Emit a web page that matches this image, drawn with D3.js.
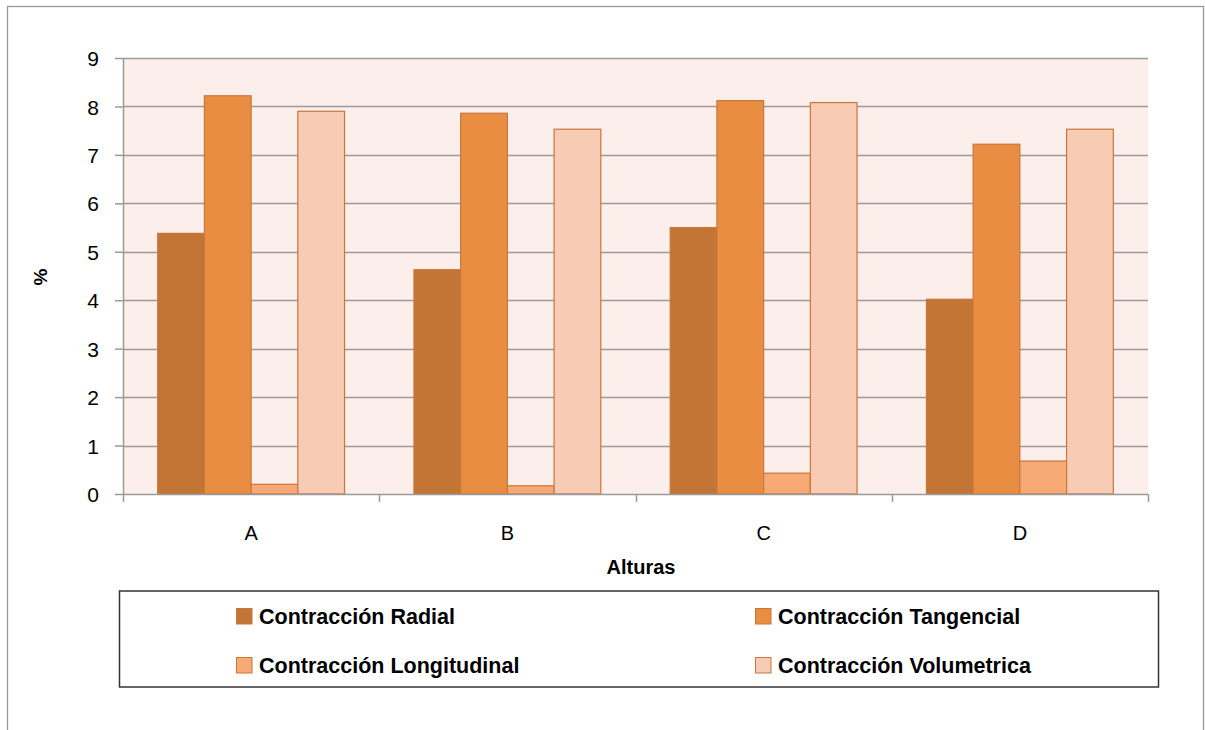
<!DOCTYPE html>
<html><head><meta charset="utf-8">
<script src="https://cdn.jsdelivr.net/npm/d3@7"></script>
<style>html,body{margin:0;padding:0;background:#fff;}svg{display:block;}</style>
</head><body><svg id="c" width="1205" height="730"></svg>
<script>
const categories = ["A", "B", "C", "D"];
const seriesNames = ["Contracción Radial", "Contracción Tangencial", "Contracción Longitudinal", "Contracción Volumetrica"];
const radial = [5.38, 4.63, 5.5, 4.02];
const tangencial = [8.22, 7.86, 8.12, 7.22];
const longitudinal = [0.2, 0.17, 0.43, 0.68];
const volumetrica = [7.9, 7.53, 8.08, 7.53];
const yTicks = [0, 1, 2, 3, 4, 5, 6, 7, 8, 9];
const seriesValues = [radial, tangencial, longitudinal, volumetrica];
const colors = ["#C27534", "#E88D41", "#F7A976", "#F8CBB5"];

const svg = d3.select("#c");
const font = "'Liberation Sans', Arial, sans-serif";
const L = 123, R = 1148, T = 58, B = 494;

// outer frame
svg.append("rect").attr("x", 7.5).attr("y", 6.5).attr("width", 1196).attr("height", 800)
  .attr("fill", "none").attr("stroke", "#999").attr("stroke-width", 1.3);

const x = d3.scaleBand().domain(categories).range([L, R]).padding(0);
const xi = d3.scaleBand().domain(d3.range(seriesNames.length)).range([0, x.bandwidth()]).paddingInner(0).paddingOuter(0.743);
const y = d3.scaleLinear().domain([0, 9]).range([B, T]);

svg.append("rect").attr("x", L).attr("y", T).attr("width", R - L).attr("height", B - T).attr("fill", "#FCEEEA");

// gridlines
svg.append("g").selectAll("line").data(yTicks.filter(d => d > 0)).join("line")
  .attr("x1", L).attr("x2", R).attr("y1", d => Math.round(y(d)) + 0.5).attr("y2", d => Math.round(y(d)) + 0.5)
  .attr("stroke", "#9a9a9a").attr("stroke-width", 1.5);

// y axis
const yAxis = svg.append("g").attr("transform", `translate(${L},0)`)
  .call(d3.axisLeft(y).tickValues(yTicks).tickSize(8).tickPadding(16).tickFormat(d3.format("d")));
yAxis.select(".domain").attr("stroke", "#9a9a9a").attr("stroke-width", 1.5).attr("d", `M0.5,${T}V${B}`);
yAxis.selectAll(".tick line").attr("stroke", "#9a9a9a").attr("stroke-width", 1.5);
yAxis.selectAll("text").attr("font-family", font).attr("font-size", 21).attr("fill", "#000").attr("dy", "0.36em");

// bars
const g = svg.append("g");
seriesValues.forEach((vals, si) => {
  g.selectAll(null).data(vals).join("rect")
    .attr("x", (d, i) => x(categories[i]) + xi(si))
    .attr("y", d => y(d))
    .attr("width", xi.bandwidth())
    .attr("height", d => y(0) - y(d))
    .attr("fill", colors[si])
    .attr("stroke", "#C9773A").attr("stroke-width", 1.2);
});

// x axis
const xAxis = svg.append("g").attr("transform", `translate(0,${B})`)
  .call(d3.axisBottom(x).tickSize(0).tickPadding(32));
xAxis.select(".domain").attr("stroke", "#9a9a9a").attr("stroke-width", 1.5).attr("d", `M${L},0.5H${R}`);
xAxis.selectAll("text").attr("font-family", font).attr("font-size", 20).attr("fill", "#000");
svg.append("g").selectAll("line").data(d3.range(categories.length + 1)).join("line")
  .attr("x1", i => Math.round(L + i * x.step()) + 0.5).attr("x2", i => Math.round(L + i * x.step()) + 0.5)
  .attr("y1", B).attr("y2", B + 8).attr("stroke", "#9a9a9a").attr("stroke-width", 1.5);

// axis titles
svg.append("text").attr("x", 641).attr("y", 574).attr("text-anchor", "middle")
  .attr("font-family", font).attr("font-weight", "bold").attr("font-size", 20).text("Alturas");
svg.append("text").attr("transform", "translate(47,277) rotate(-90)").attr("text-anchor", "middle")
  .attr("font-family", font).attr("font-weight", "bold").attr("font-size", 19).text("%");

// legend
svg.append("rect").attr("x", 119.5).attr("y", 591).attr("width", 1039).attr("height", 96)
  .attr("fill", "#fff").attr("stroke", "#333").attr("stroke-width", 1.5);
const legPos = [[236, 608], [755, 608], [236, 657], [755, 657]];
const lg = svg.append("g").selectAll("g").data(seriesNames).join("g")
  .attr("transform", (d, i) => `translate(${legPos[i][0]},${legPos[i][1]})`);
lg.append("rect").attr("x", 0.5).attr("y", 0.5).attr("width", 15.5).attr("height", 15.5)
  .attr("fill", (d, i) => colors[i]).attr("stroke", "#C9773A").attr("stroke-width", 1);
lg.append("text").attr("x", 23).attr("y", 16).attr("font-family", font).attr("font-weight", "bold")
  .attr("font-size", 21.5).attr("fill", "#000").text(d => d);
</script></body></html>
